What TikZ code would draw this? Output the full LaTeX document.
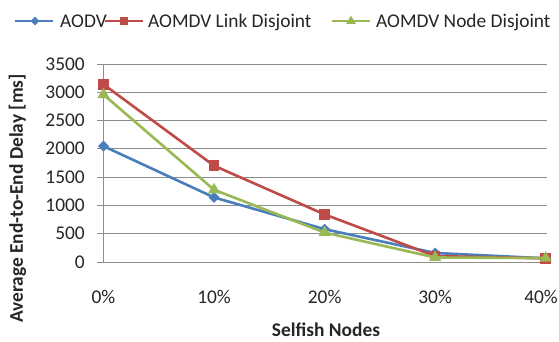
\documentclass[tikz,border=0pt]{standalone}
\usepackage{fontspec}
\setmainfont{Carlito}
\usetikzlibrary{shapes.geometric}
\definecolor{sblue}{HTML}{4A7EBB}
\definecolor{sred}{HTML}{BE4B48}
\definecolor{sgreen}{HTML}{98B954}
\definecolor{gridgray}{HTML}{8C8C8C}
\definecolor{ink}{HTML}{262626}

\begin{document}
\begin{tikzpicture}[x=1pt,y=-1pt,
  lbl/.style={font=\fontsize{19.4}{23}\selectfont, text=ink, inner sep=0pt},
  boldlbl/.style={lbl, font=\fontsize{19.4}{23}\selectfont\bfseries},
  gridline/.style={draw=gridgray, line width=1pt},
  series/.style={line width=2.6pt, line join=round, line cap=round},
  legline/.style={line width=2.6pt},
  dmark/.style={diamond, fill=sblue, inner sep=0pt, minimum size=#1},
  smark/.style={rectangle, fill=sred, inner sep=0pt, minimum size=#1},
  tmark/.style={regular polygon, regular polygon sides=3, fill=sgreen, inner sep=0pt, minimum size=#1},
]
\useasboundingbox[fill=white] (0,0) rectangle (559,341);

% horizontal gridlines, tick marks and value labels
\foreach \v in {0,500,...,3500} {
  \pgfmathsetmacro\yy{262.3-0.05666*\v}
  \draw[gridline] (97,\yy) -- (546.7,\yy);
  \node[lbl, anchor=base east] (yt\v) at (85,\yy+6) {\v};
}
% vertical axis
\coordinate (axtop) at (103.5,64.0);
\coordinate (axbot) at (103.5,262.3);
\draw[gridline] (axtop) -- (axbot);

% category labels (the last one kept inside the right edge)
\foreach \i/\c in {0/0\%,1/10\%,2/20\%,3/30\%} {
  \node[lbl, anchor=base] (xt\i) at (103.5+110.55*\i,303) {\c};
}
\node[lbl, anchor=base east] (xt4) at (558,303) {40\%};

% axis titles
\node[boldlbl, anchor=base] (xtitle) at (326,336) {Selfish Nodes};
\node[boldlbl, anchor=base, rotate=90] (ytitle) at (23,198.5) {Average End-to-End Delay [ms]};

% data points (value -> y = 262.3 - 0.05666*value)
\foreach \s/\a/\b/\c/\d/\e in {
  A/2050/1145/585/165/70,
  L/3140/1705/845/110/70,
  N/2960/1280/525/85/75} {
  \foreach \i/\val in {0/\a,1/\b,2/\c,3/\d,4/\e} {
    \coordinate (\s\i) at (103.5+110.55*\i, 262.3-0.05666*\val);
  }
}

% AODV
\draw[series, sblue] (A0) -- (A1) -- (A2) -- (A3) -- (A4);
\foreach \i in {0,...,4} \node[dmark=11pt] (mA\i) at (A\i) {};
% AOMDV Link Disjoint
\draw[series, sred] (L0) -- (L1) -- (L2) -- (L3) -- (L4);
\foreach \i in {0,...,4} \node[smark=10.5pt] (mL\i) at (L\i) {};
% AOMDV Node Disjoint
\draw[series, sgreen] (N0) -- (N1) -- (N2) -- (N3) -- (N4);
\foreach \i in {0,...,4} \node[tmark=14pt] (mN\i) at (N\i) {};

% legend
\coordinate (lgA1) at (15,21);  \coordinate (lgA2) at (53,21);
\coordinate (lgL1) at (105,21); \coordinate (lgL2) at (143,21);
\coordinate (lgN1) at (332,21); \coordinate (lgN2) at (370,21);
\draw[legline, sblue] (lgA1) -- (lgA2);
\node[dmark=9pt] (lgmA) at (35,21) {};
\node[lbl, anchor=base west] (lgtA) at (60,27.5) {AODV};
\draw[legline, sred] (lgL1) -- (lgL2);
\node[smark=8.5pt] (lgmL) at (124,21) {};
\node[lbl, anchor=base west] (lgtL) at (148,27.5) {AOMDV Link Disjoint};
\draw[legline, sgreen] (lgN1) -- (lgN2);
\node[tmark=11pt] (lgmN) at (351,21) {};
\node[lbl, anchor=base west] (lgtN) at (376,27.5) {AOMDV Node Disjoint};
\end{tikzpicture}
\end{document}
